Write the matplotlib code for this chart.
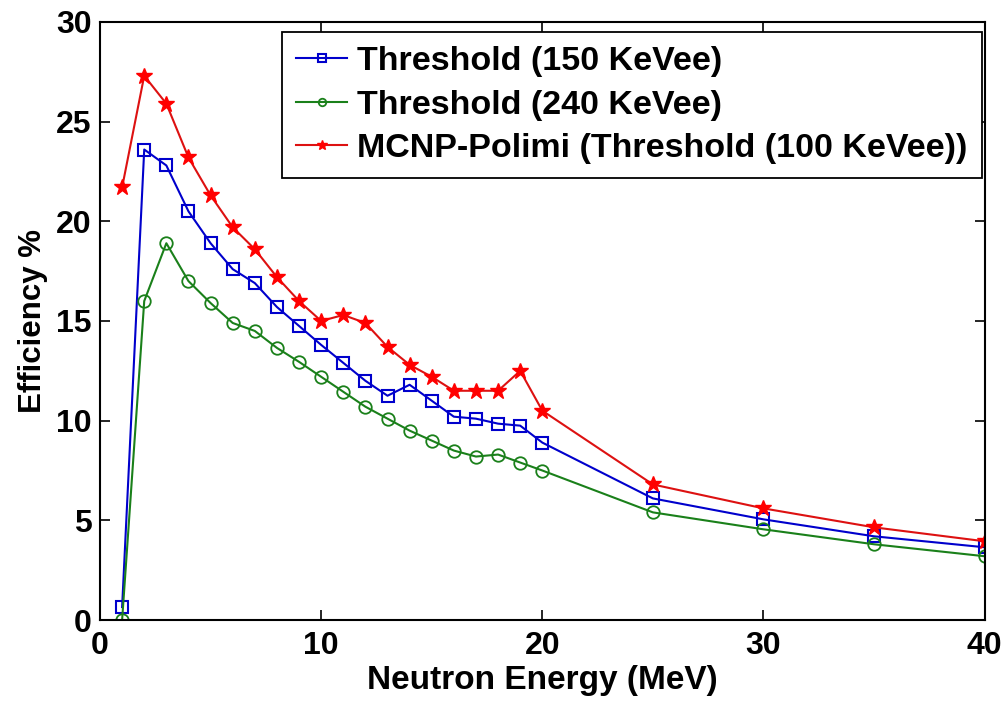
import matplotlib
matplotlib.use("Agg")
import matplotlib.pyplot as plt

energy = [1, 2, 3, 4, 5, 6, 7, 8, 9, 10, 11, 12, 13, 14, 15, 16, 17, 18, 19, 20, 25, 30, 35, 40]
eff_150 = [0.65, 23.6, 22.8, 20.5, 18.9, 17.6, 16.9, 15.7, 14.75, 13.8, 12.9, 12.0, 11.25, 11.8,
           11.0, 10.2, 10.1, 9.85, 9.75, 8.9, 6.1, 5.05, 4.2, 3.65]
eff_240 = [0.0, 16.0, 18.9, 17.0, 15.9, 14.9, 14.5, 13.65, 12.95, 12.2, 11.45, 10.7, 10.1, 9.5,
           9.0, 8.5, 8.2, 8.3, 7.9, 7.5, 5.4, 4.55, 3.8, 3.2]
eff_mcnp = [21.7, 27.3, 25.9, 23.2, 21.3, 19.7, 18.6, 17.2, 16.0, 15.0, 15.3, 14.9, 13.7, 12.8,
            12.2, 11.5, 11.5, 11.5, 12.5, 10.5, 6.8, 5.6, 4.65, 3.95]
labels = ["Threshold (150 KeVee)", "Threshold (240 KeVee)", "MCNP-Polimi (Threshold (100 KeVee))"]
xticks = [0, 10, 20, 30, 40]
yticks = [0, 5, 10, 15, 20, 25, 30]

plt.rcParams["font.family"] = ["Liberation Sans", "DejaVu Sans"]
plt.rcParams["font.weight"] = "bold"

fig = plt.figure(figsize=(10.03, 7.07), dpi=100)
ax = fig.add_axes([0.0997, 0.123, 0.882, 0.846])

l1, = ax.plot(energy, eff_150, color="#0000cc", lw=1.5, marker="s", ms=9, mfc="none", mew=1.5)
l2, = ax.plot(energy, eff_240, color="#1a801a", lw=1.5, marker="o", ms=9, mfc="none", mew=1.3)
l3, = ax.plot(energy, eff_mcnp, color="#dd1111", lw=1.5, marker="*", ms=12, mfc="red", mec="red")

ax.set_xlim(0, 40)
ax.set_ylim(0, 30)
ax.set_xticks(xticks)
ax.set_yticks(yticks)
ax.tick_params(axis="both", direction="in", top=True, right=True, length=7, width=1.2, labelsize=23)
ax.tick_params(axis="x", pad=8)
ax.tick_params(axis="y", pad=6)
for lab in ax.get_xticklabels() + ax.get_yticklabels():
    lab.set_fontweight("bold")
for s in ax.spines.values():
    s.set_linewidth(1.5)

ax.set_xlabel("Neutron Energy (MeV)", fontsize=24, fontweight="bold", labelpad=3)
ax.set_ylabel("Efficiency %", fontsize=22.5, fontweight="bold", labelpad=6)

leg = ax.legend([l1, l2, l3], labels, loc="upper right", bbox_to_anchor=(0.997, 0.983),
                borderaxespad=0, prop={"weight": "bold", "size": 24.5},
                fancybox=False, edgecolor="black", framealpha=1, handlelength=1.5,
                handletextpad=0.3, labelspacing=0.36, borderpad=0.42, markerscale=0.6)
leg.get_frame().set_linewidth(1.3)

fig.savefig("out.png", dpi=100)
